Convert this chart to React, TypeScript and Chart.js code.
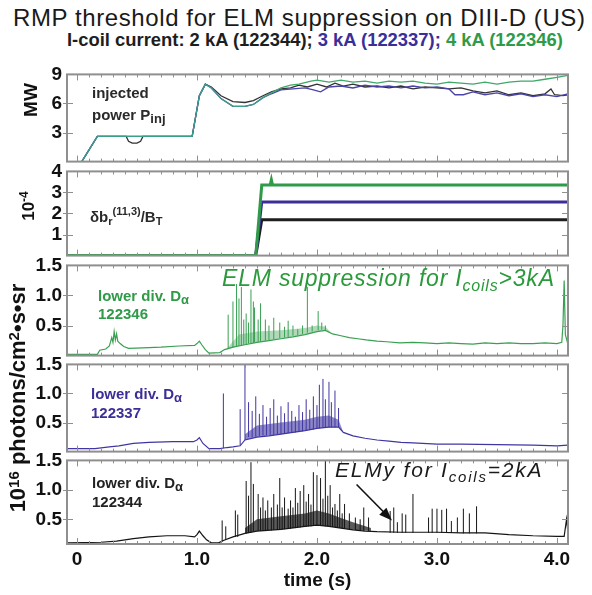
import { useEffect, useRef } from "react";
import { Chart, registerables } from "chart.js";

Chart.register(...registerables);

const SANS = '"Liberation Sans", Arial, Helvetica, sans-serif';
const NARROW = '"Liberation Sans Narrow", "Liberation Sans", Arial, sans-serif';

const GREEN = "#2f9a48";
const BLUE = "#3b2e98";
const BLACK = "#1e1e1e";
const FRAME = "#8f8f8f";

// shared time axis (s)
const T_MIN = -0.083;
const T_MAX = 4.092;
const TIME_TICKS = [0, 1, 2, 3, 4];
const TIME_LABELS = ["0", "1.0", "2.0", "3.0", "4.0"];

// ---- injected power P_inj (MW), [time, MW]
const pinj4kA = [
  [-0.08, 0], [0.04, 0], [0.17, 2.6], [0.96, 2.6], [1.02, 6.8], [1.07, 8.0], [1.12, 7.6], [1.2, 6.5],
  [1.3, 5.7], [1.4, 5.7], [1.47, 5.9], [1.55, 6.6], [1.62, 7.1], [1.7, 7.6], [1.78, 7.9], [1.85, 8.0],
  [1.95, 8.3], [2.0, 8.4], [2.1, 8.2], [2.2, 8.4], [2.3, 8.2], [2.4, 8.3], [2.5, 8.1], [2.6, 8.3],
  [2.7, 8.2], [2.8, 8.3], [2.9, 8.1], [3.0, 8.0], [3.1, 8.2], [3.2, 8.1], [3.3, 8.0], [3.4, 8.2],
  [3.5, 8.0], [3.6, 8.2], [3.7, 8.3], [3.8, 8.3], [3.9, 8.5], [4.0, 8.7], [4.09, 8.9],
];
const pinj3kA = [
  [-0.08, 0], [0.04, 0], [0.17, 2.6], [0.96, 2.6], [1.02, 6.8], [1.07, 8.0], [1.12, 7.6], [1.2, 6.5],
  [1.3, 5.7], [1.4, 5.7], [1.47, 5.9], [1.55, 6.6], [1.62, 7.0], [1.7, 7.4], [1.8, 7.5], [1.9, 7.6],
  [1.97, 7.4], [2.03, 7.2], [2.1, 7.7], [2.2, 7.8], [2.3, 7.6], [2.4, 7.9], [2.5, 7.7], [2.6, 7.8],
  [2.7, 7.6], [2.8, 7.8], [2.9, 7.6], [3.0, 7.7], [3.1, 7.5], [3.15, 6.9], [3.22, 6.9], [3.3, 7.2],
  [3.4, 6.9], [3.5, 7.1], [3.6, 6.8], [3.7, 7.0], [3.8, 6.7], [3.9, 6.9], [4.0, 6.7], [4.09, 7.0],
];
const pinj2kA = [
  [-0.08, 0], [0.04, 0], [0.17, 2.6], [0.41, 2.6], [0.43, 2.1], [0.46, 1.9], [0.5, 1.9], [0.53, 2.1],
  [0.55, 2.6], [0.96, 2.6], [1.02, 6.8], [1.07, 8.0], [1.12, 7.7], [1.2, 6.8], [1.3, 6.2], [1.4, 6.1],
  [1.47, 6.3], [1.55, 6.8], [1.62, 7.2], [1.7, 7.5], [1.78, 7.6], [1.85, 7.9], [1.92, 7.7], [2.0, 8.0],
  [2.08, 7.7], [2.15, 8.1], [2.22, 7.8], [2.3, 8.0], [2.4, 7.7], [2.5, 7.8], [2.6, 7.6], [2.7, 7.8],
  [2.8, 7.5], [2.9, 7.7], [3.0, 7.6], [3.1, 7.5], [3.2, 7.6], [3.3, 7.3], [3.4, 7.1], [3.5, 7.3],
  [3.6, 6.9], [3.7, 7.1], [3.8, 6.8], [3.9, 7.0], [3.95, 7.5], [3.98, 6.9], [4.05, 6.8], [4.09, 6.9],
];

// ---- resonant field δb_r(11,3)/B_T (1e-4), [time, value]
const br4kA = [[-0.08, 0], [1.49, 0], [1.54, 3.35], [1.61, 3.35], [1.62, 3.6], [1.63, 3.35], [4.09, 3.35]];
const br3kA = [[-0.08, 0], [1.49, 0], [1.54, 2.55], [4.09, 2.55]];
const br2kA = [[-0.08, 0], [1.49, 0], [1.54, 1.7], [4.09, 1.7]];

// ---- lower divertor D-alpha (1e16 photons/cm2·s·sr)
// baseline traces, [time, value]
const da122346 = [
  [-0.08, 0.02], [0.17, 0.02], [0.19, 0.09], [0.24, 0.11], [0.27, 0.16], [0.29, 0.3], [0.3, 0.22], [0.31, 0.4],
  [0.32, 0.26], [0.33, 0.36], [0.34, 0.24], [0.36, 0.2], [0.39, 0.15], [0.43, 0.12], [0.55, 0.13], [0.7, 0.14],
  [0.85, 0.16], [0.98, 0.17], [1.0, 0.2], [1.02, 0.24], [1.04, 0.18], [1.07, 0.1], [1.1, 0.04], [1.19, 0.05],
  [1.23, 0.1], [1.3, 0.14], [1.4, 0.18], [1.5, 0.22], [1.6, 0.25], [1.7, 0.28], [1.8, 0.31], [1.9, 0.35],
  [2.0, 0.4], [2.07, 0.42], [2.13, 0.36], [2.2, 0.33], [2.27, 0.3], [2.34, 0.28], [2.41, 0.26], [2.5, 0.24],
  [2.58, 0.23], [2.69, 0.21], [2.8, 0.22], [2.9, 0.21], [3.0, 0.2], [3.1, 0.21], [3.2, 0.2], [3.3, 0.19],
  [3.4, 0.21], [3.5, 0.2], [3.6, 0.21], [3.7, 0.2], [3.8, 0.2], [3.9, 0.21], [4.0, 0.2], [4.04, 0.22],
  [4.05, 0.5], [4.06, 1.25], [4.07, 0.35], [4.09, 0.2],
];
const da122337 = [
  [-0.08, 0.05], [0.15, 0.05], [0.27, 0.08], [0.35, 0.1], [0.47, 0.14], [0.6, 0.16], [0.8, 0.17], [0.97, 0.17],
  [1.0, 0.2], [1.02, 0.24], [1.05, 0.14], [1.1, 0.05], [1.19, 0.05], [1.25, 0.07], [1.3, 0.08], [1.36, 0.1],
  [1.4, 0.2], [1.5, 0.25], [1.6, 0.27], [1.7, 0.3], [1.8, 0.33], [1.9, 0.36], [2.0, 0.4], [2.1, 0.42],
  [2.18, 0.42], [2.22, 0.33], [2.3, 0.27], [2.4, 0.23], [2.5, 0.2], [2.6, 0.18], [2.7, 0.16], [2.8, 0.15],
  [3.0, 0.13], [3.2, 0.13], [3.5, 0.12], [3.8, 0.11], [4.0, 0.1], [4.09, 0.11],
];
const da122344 = [
  [-0.08, 0.1], [0.2, 0.11], [0.33, 0.13], [0.47, 0.17], [0.6, 0.2], [0.75, 0.22], [0.9, 0.22], [0.98, 0.2],
  [1.0, 0.24], [1.02, 0.3], [1.05, 0.22], [1.08, 0.15], [1.12, 0.1], [1.18, 0.1], [1.22, 0.14], [1.3, 0.2],
  [1.4, 0.26], [1.5, 0.3], [1.7, 0.33], [1.9, 0.38], [2.0, 0.4], [2.1, 0.38], [2.2, 0.35], [2.3, 0.32],
  [2.4, 0.3], [2.5, 0.29], [2.7, 0.28], [3.0, 0.28], [3.2, 0.27], [3.4, 0.27], [3.6, 0.24], [3.8, 0.22],
  [4.0, 0.21], [4.06, 0.21], [4.08, 0.5], [4.09, 0.3],
];

// dense inter-ELM band, [time, lower, upper]
const band122346 = [[1.25, 0.1, 0.12], [1.35, 0.16, 0.35], [1.5, 0.22, 0.4], [1.7, 0.28, 0.42], [1.9, 0.35, 0.46], [2.0, 0.4, 0.5], [2.07, 0.42, 0.48], [2.13, 0.36, 0.36]];
const band122337 = [[1.4, 0.2, 0.3], [1.5, 0.25, 0.45], [1.7, 0.3, 0.5], [1.9, 0.36, 0.55], [2.0, 0.4, 0.6], [2.1, 0.42, 0.62], [2.18, 0.42, 0.55], [2.22, 0.33, 0.33]];
const band122344 = [[1.4, 0.26, 0.35], [1.5, 0.3, 0.5], [1.7, 0.33, 0.55], [1.9, 0.38, 0.6], [2.0, 0.4, 0.65], [2.1, 0.38, 0.6], [2.2, 0.35, 0.52], [2.3, 0.32, 0.45], [2.45, 0.3, 0.35]];

// ELM spikes, [time, floor, peak]
const elms122346 = [
  [1.26, 0.12, 0.68], [1.3, 0.14, 0.9], [1.33, 0.15, 1.19], [1.35, 0.16, 0.95], [1.37, 0.17, 1.14], [1.39, 0.18, 0.6],
  [1.41, 0.19, 0.7], [1.43, 0.2, 0.55], [1.45, 0.21, 1.1], [1.47, 0.21, 0.9], [1.48, 0.22, 0.8], [1.51, 0.23, 0.6],
  [1.53, 0.23, 0.87], [1.57, 0.25, 0.6], [1.6, 0.26, 0.5], [1.64, 0.27, 0.63], [1.69, 0.29, 0.55], [1.73, 0.3, 0.48],
  [1.76, 0.31, 0.58], [1.8, 0.33, 0.5], [1.84, 0.34, 0.44], [1.88, 0.36, 0.5], [1.92, 0.38, 1.14], [1.96, 0.4, 0.5],
  [2.01, 0.42, 0.74], [2.04, 0.43, 0.55], [2.07, 0.42, 0.5],
];
const elms122337 = [
  [1.22, 0.06, 1.0], [1.36, 0.1, 0.73], [1.4, 0.2, 1.55], [1.43, 0.25, 0.85], [1.46, 0.25, 0.7], [1.49, 0.26, 0.95],
  [1.52, 0.27, 0.65], [1.55, 0.28, 0.8], [1.58, 0.28, 0.6], [1.61, 0.29, 0.75], [1.64, 0.29, 0.9], [1.67, 0.3, 0.62],
  [1.7, 0.3, 0.78], [1.73, 0.31, 0.66], [1.76, 0.32, 0.85], [1.79, 0.33, 0.7], [1.82, 0.33, 0.6], [1.85, 0.34, 0.8],
  [1.88, 0.35, 0.68], [1.91, 0.36, 0.9], [1.94, 0.37, 0.72], [1.97, 0.38, 0.95], [2.0, 0.4, 0.8], [2.02, 0.4, 1.15],
  [2.05, 0.41, 1.25], [2.07, 0.41, 0.9], [2.1, 0.42, 1.2], [2.12, 0.42, 0.85], [2.15, 0.42, 1.05], [2.18, 0.42, 0.75],
];
const elms122344 = [
  [1.21, 0.12, 0.48], [1.24, 0.15, 0.38], [1.32, 0.2, 0.65], [1.34, 0.2, 0.58], [1.41, 0.26, 1.15], [1.43, 0.28, 0.9],
  [1.45, 0.28, 1.47], [1.47, 0.3, 1.1], [1.51, 0.3, 0.93], [1.53, 0.3, 0.7], [1.55, 0.3, 0.87], [1.57, 0.3, 0.65],
  [1.59, 0.31, 0.82], [1.62, 0.31, 0.7], [1.64, 0.32, 0.93], [1.67, 0.32, 0.75], [1.69, 0.33, 1.2], [1.71, 0.33, 0.7],
  [1.73, 0.33, 0.87], [1.76, 0.34, 0.68], [1.78, 0.34, 0.82], [1.8, 0.35, 0.7], [1.82, 0.35, 1.03], [1.84, 0.36, 0.78],
  [1.86, 0.36, 0.98], [1.89, 0.37, 1.08], [1.91, 0.37, 0.8], [1.93, 0.38, 0.93], [1.95, 0.38, 0.75], [1.97, 0.39, 1.3],
  [2.0, 0.4, 1.25], [2.03, 0.39, 1.2], [2.05, 0.39, 0.85], [2.07, 0.38, 1.55], [2.09, 0.38, 0.9], [2.11, 0.38, 1.08],
  [2.13, 0.37, 0.7], [2.15, 0.37, 0.76], [2.17, 0.36, 0.65], [2.19, 0.35, 0.93], [2.21, 0.35, 0.6], [2.23, 0.34, 0.76],
  [2.27, 0.33, 0.6], [2.32, 0.32, 0.53], [2.36, 0.31, 0.5], [2.39, 0.3, 0.7], [2.43, 0.3, 0.53], [2.61, 0.27, 0.64],
  [2.64, 0.27, 0.7], [2.67, 0.27, 0.45], [2.71, 0.27, 0.6], [2.74, 0.27, 0.58], [2.8, 0.27, 0.93], [2.93, 0.27, 0.53],
  [2.96, 0.27, 0.68], [3.0, 0.27, 0.68], [3.04, 0.27, 0.66], [3.08, 0.27, 0.68], [3.12, 0.27, 0.47], [3.17, 0.27, 0.53],
  [3.22, 0.26, 0.68], [3.27, 0.26, 0.6], [3.33, 0.26, 0.72],
];

// arrow pointing at the ELMy phase of 122344, [time, value]
const ARROW_FROM = [2.33, 1.09];
const ARROW_TO = [2.625, 0.48];

type Pt = { x: number; y: number | null };

const series = (rows: number[][]): Pt[] => rows.map(([t, v]) => ({ x: t, y: v }));
const bandEdge = (rows: number[][], k: number): Pt[] => rows.map((r) => ({ x: r[0], y: r[k] }));
const spikes = (rows: number[][]): Pt[] => {
  const out: Pt[] = [];
  for (const [t, lo, hi] of rows) out.push({ x: t, y: lo }, { x: t, y: hi }, { x: t, y: null });
  return out;
};

const line = (data: Pt[], color: string, width = 1, extra: any = {}) => ({
  data,
  borderColor: color,
  backgroundColor: color,
  borderWidth: width,
  pointRadius: 0,
  fill: false,
  tension: 0,
  spanGaps: false,
  ...extra,
});

// D-alpha panel datasets: trace on top, then spikes, then the dense band
const dalpha = (trace: number[][], elms: number[][], band: number[][], color: string, bandFill: string) => [
  line(series(trace), color, 1.2),
  line(spikes(elms), color, 1),
  line(bandEdge(band, 1), "rgba(0,0,0,0)", 0),
  line(bandEdge(band, 2), "rgba(0,0,0,0)", 0, { fill: "-1", backgroundColor: bandFill }),
];

type Spec = {
  top: number;
  height: number;
  min: number;
  max: number;
  ticks: number[];
  labels: string[];
  datasets: any[];
  timeAxis?: boolean;
  arrow?: boolean;
};

const PAD_TOP = 14;
const PAD_BOTTOM = 12;
const AXIS_H = 51;

const framePlugin = {
  id: "panelFrame",
  afterDatasetsDraw(chart: any, _args: any, opts: any) {
    const { ctx, chartArea, scales } = chart;
    const { left, right, top, bottom } = chartArea;
    const x = scales.x;
    const y = scales.y;
    ctx.save();
    ctx.strokeStyle = FRAME;
    ctx.lineWidth = 2;
    ctx.strokeRect(left, top, right - left, bottom - top);
    ctx.lineWidth = 1;
    ctx.beginPath();
    for (let k = 0; k <= 41; k++) {
      const px = Math.round(x.getPixelForValue(k / 10)) + 0.5;
      if (px > right) break;
      const len = k % 10 === 0 ? 6 : 3;
      ctx.moveTo(px, top);
      ctx.lineTo(px, top + len);
      ctx.moveTo(px, bottom);
      ctx.lineTo(px, bottom - len);
    }
    for (const t of y.ticks) {
      const py = Math.round(y.getPixelForValue(t.value)) + 0.5;
      if (py <= top + 1 || py >= bottom - 1) continue;
      ctx.moveTo(left - 4, py);
      ctx.lineTo(left + 6, py);
      ctx.moveTo(right - 6, py);
      ctx.lineTo(right, py);
    }
    ctx.stroke();

    if (opts && opts.arrow) {
      const x0 = x.getPixelForValue(ARROW_FROM[0]);
      const y0 = y.getPixelForValue(ARROW_FROM[1]);
      const x1 = x.getPixelForValue(ARROW_TO[0]);
      const y1 = y.getPixelForValue(ARROW_TO[1]);
      const ang = Math.atan2(y1 - y0, x1 - x0);
      ctx.strokeStyle = "#111";
      ctx.fillStyle = "#111";
      ctx.lineWidth = 1.6;
      ctx.beginPath();
      ctx.moveTo(x0, y0);
      ctx.lineTo(x1 - 9 * Math.cos(ang), y1 - 9 * Math.sin(ang));
      ctx.stroke();
      ctx.beginPath();
      ctx.moveTo(x1, y1);
      ctx.lineTo(x1 - 13 * Math.cos(ang) + 5 * Math.sin(ang), y1 - 13 * Math.sin(ang) - 5 * Math.cos(ang));
      ctx.lineTo(x1 - 13 * Math.cos(ang) - 5 * Math.sin(ang), y1 - 13 * Math.sin(ang) + 5 * Math.cos(ang));
      ctx.closePath();
      ctx.fill();
    }
    ctx.restore();
  },
};

function Panel({ spec }: { spec: Spec }) {
  const ref = useRef<HTMLCanvasElement>(null);
  const h = PAD_TOP + spec.height + (spec.timeAxis ? AXIS_H : PAD_BOTTOM);

  useEffect(() => {
    const tickFont = { family: SANS, size: 19, weight: "bold" as const };
    const chart = new Chart(ref.current!, {
      type: "line",
      data: { datasets: spec.datasets },
      options: {
        animation: false,
        responsive: false,
        maintainAspectRatio: false,
        events: [],
        layout: { padding: { left: 0, right: 24, top: PAD_TOP, bottom: spec.timeAxis ? 0 : PAD_BOTTOM } },
        plugins: {
          legend: { display: false },
          tooltip: { enabled: false },
          panelFrame: { arrow: !!spec.arrow },
        } as any,
        scales: {
          x: {
            type: "linear",
            min: T_MIN,
            max: T_MAX,
            display: !!spec.timeAxis,
            grid: { display: false, drawTicks: false },
            border: { display: false },
            afterBuildTicks: (s: any) => {
              s.ticks = TIME_TICKS.map((v) => ({ value: v }));
            },
            afterFit: (s: any) => {
              if (spec.timeAxis) s.height = AXIS_H;
            },
            ticks: {
              autoSkip: false,
              maxRotation: 0,
              padding: 4,
              color: "#111",
              font: tickFont,
              callback: (v: any) => TIME_LABELS[TIME_TICKS.indexOf(Number(v))] ?? "",
            },
            title: {
              display: true,
              text: "time (s)",
              color: "#111",
              font: { family: NARROW, size: 19, weight: "bold" },
              padding: { top: 0, bottom: 3 },
            },
          },
          y: {
            type: "linear",
            min: spec.min,
            max: spec.max,
            grid: { display: false, drawTicks: false },
            border: { display: false },
            afterBuildTicks: (s: any) => {
              s.ticks = spec.ticks.map((v) => ({ value: v }));
            },
            afterFit: (s: any) => {
              s.width = 67;
            },
            ticks: {
              autoSkip: false,
              padding: 5,
              color: "#111",
              font: tickFont,
              callback: (v: any) => spec.labels[spec.ticks.indexOf(Number(v))] ?? "",
            },
          },
        },
      },
      plugins: [framePlugin],
    });
    return () => chart.destroy();
  }, []);

  return (
    <canvas
      ref={ref}
      width={592}
      height={h}
      style={{ position: "absolute", left: 0, top: spec.top - PAD_TOP, width: 592, height: h }}
    />
  );
}

function Txt(props: { x: number; base: number; size: number; children: any; style?: any }) {
  const { x, base, size, children, style } = props;
  return (
    <div
      style={{
        position: "absolute",
        left: x,
        top: base - 0.846 * size,
        fontFamily: SANS,
        fontSize: size,
        lineHeight: 1,
        whiteSpace: "nowrap",
        ...style,
      }}
    >
      {children}
    </div>
  );
}

function VTxt(props: { cx: number; cy: number; size: number; children: any }) {
  return (
    <div
      style={{
        position: "absolute",
        left: props.cx,
        top: props.cy,
        transform: "translate(-50%, -50%) rotate(-90deg)",
        fontFamily: SANS,
        fontWeight: "bold",
        fontSize: props.size,
        lineHeight: 1,
        whiteSpace: "nowrap",
        color: "#111",
      }}
    >
      {props.children}
    </div>
  );
}

const sub = (s: string, size: number, dy: number) => (
  <span style={{ fontSize: size, position: "relative", top: dy }}>{s}</span>
);

// 4 kA power trace is teal while the three shots still overlap
const pinj4kAColor = (ctx: any) => (ctx.p1.parsed.x <= 1.6 ? "#3c9f8a" : "#3fa76a");

export default function App() {
  const panels: Spec[] = [
    {
      top: 72, height: 94, min: 0, max: 9, ticks: [9, 6, 3, 0], labels: ["9", "6", "3", ""],
      datasets: [
        line(series(pinj4kA), "#3fa76a", 1.3, { segment: { borderColor: pinj4kAColor } }),
        line(series(pinj3kA), "#4a44a8", 1.3),
        line(series(pinj2kA), "#333", 1.3),
      ],
    },
    {
      top: 169, height: 91, min: 0, max: 4, ticks: [4, 3, 2, 1, 0], labels: ["4", "3", "2", "1", ""],
      datasets: [line(series(br4kA), GREEN, 3), line(series(br3kA), BLUE, 3), line(series(br2kA), BLACK, 3)],
    },
    {
      top: 263, height: 97, min: 0, max: 1.5, ticks: [1.5, 1.0, 0.5, 0], labels: ["1.5", "1.0", "0.5", ""],
      datasets: dalpha(da122346, elms122346, band122346, "#39a052", "rgba(57,160,82,0.4)"),
    },
    {
      top: 362, height: 94, min: 0, max: 1.5, ticks: [1.5, 1.0, 0.5, 0], labels: ["1.5", "1.0", "0.5", ""],
      datasets: dalpha(da122337, elms122337, band122337, "#4036a2", "rgba(64,54,162,0.6)"),
    },
    {
      top: 458, height: 86, min: 0.08, max: 1.5, ticks: [1.5, 1.0, 0.5], labels: ["1.5", "1.0", "0.5"],
      datasets: dalpha(da122344, elms122344, band122344, "#151515", "rgba(20,20,20,0.7)"),
      timeAxis: true,
      arrow: true,
    },
  ];

  const labelStyle = { fontWeight: "bold", fontFamily: SANS };

  return (
    <div style={{ position: "fixed", left: 0, top: 0, width: 592, height: 595, background: "#fff", overflow: "hidden" }}>
      {panels.map((p, i) => (
        <Panel key={i} spec={p} />
      ))}

      <Txt x={13} base={26} size={24} style={{ letterSpacing: "0.6px", color: "#1a1a1a" }}>
        RMP threshold for ELM suppression on DIII-D (US)
      </Txt>
      <Txt x={67} base={47} size={18.4} style={{ fontFamily: NARROW, fontWeight: "bold" }}>
        <span style={{ color: BLACK }}>I-coil current: 2 kA (122344); </span>
        <span style={{ color: BLUE }}>3 kA (122337); </span>
        <span style={{ color: GREEN }}>4 kA (122346)</span>
      </Txt>

      <Txt x={92} base={98} size={15} style={{ ...labelStyle, color: "#2a2a2a" }}>injected</Txt>
      <Txt x={92} base={120} size={15} style={{ ...labelStyle, color: "#2a2a2a" }}>
        power P{sub("inj", 13, 3)}
      </Txt>

      <Txt x={90} base={222} size={15} style={{ ...labelStyle, color: "#2a2a2a" }}>
        δb{sub("r", 11, 3)}
        {sub("(11,3)", 11, -7)}/B{sub("T", 11, 3)}
      </Txt>

      <Txt x={98} base={300.7} size={15} style={{ ...labelStyle, color: GREEN }}>
        lower div. D{sub("α", 13, 3)}
      </Txt>
      <Txt x={98} base={319} size={15} style={{ ...labelStyle, color: GREEN }}>122346</Txt>

      <Txt x={91} base={399} size={15} style={{ ...labelStyle, color: BLUE }}>
        lower div. D{sub("α", 13, 3)}
      </Txt>
      <Txt x={91} base={417.7} size={15} style={{ ...labelStyle, color: BLUE }}>122337</Txt>

      <Txt x={92} base={488} size={15} style={{ ...labelStyle, color: "#222" }}>
        lower div. D{sub("α", 13, 3)}
      </Txt>
      <Txt x={92} base={506.7} size={15} style={{ ...labelStyle, color: "#222" }}>122344</Txt>

      <Txt x={222} base={286.7} size={23} style={{ fontStyle: "italic", letterSpacing: "0.8px", color: "#2a9a3a" }}>
        ELM suppression for I{sub("coils", 16, 5)}&gt;3kA
      </Txt>
      <Txt x={335} base={476.7} size={21} style={{ fontStyle: "italic", letterSpacing: "1.8px", color: "#1a1a1a" }}>
        ELMy for I{sub("coils", 15, 5)}=2kA
      </Txt>

      <VTxt cx={30} cy={100} size={19}>MW</VTxt>
      <VTxt cx={28} cy={206} size={17}>
        10<span style={{ fontSize: 12, position: "relative", top: -6 }}>-4</span>
      </VTxt>
      <VTxt cx={18} cy={398} size={22}>
        10<span style={{ fontSize: 15, position: "relative", top: -6 }}>16</span> photons/cm
        <span style={{ fontSize: 15, position: "relative", top: -6 }}>2</span>•s•sr
      </VTxt>
    </div>
  );
}
